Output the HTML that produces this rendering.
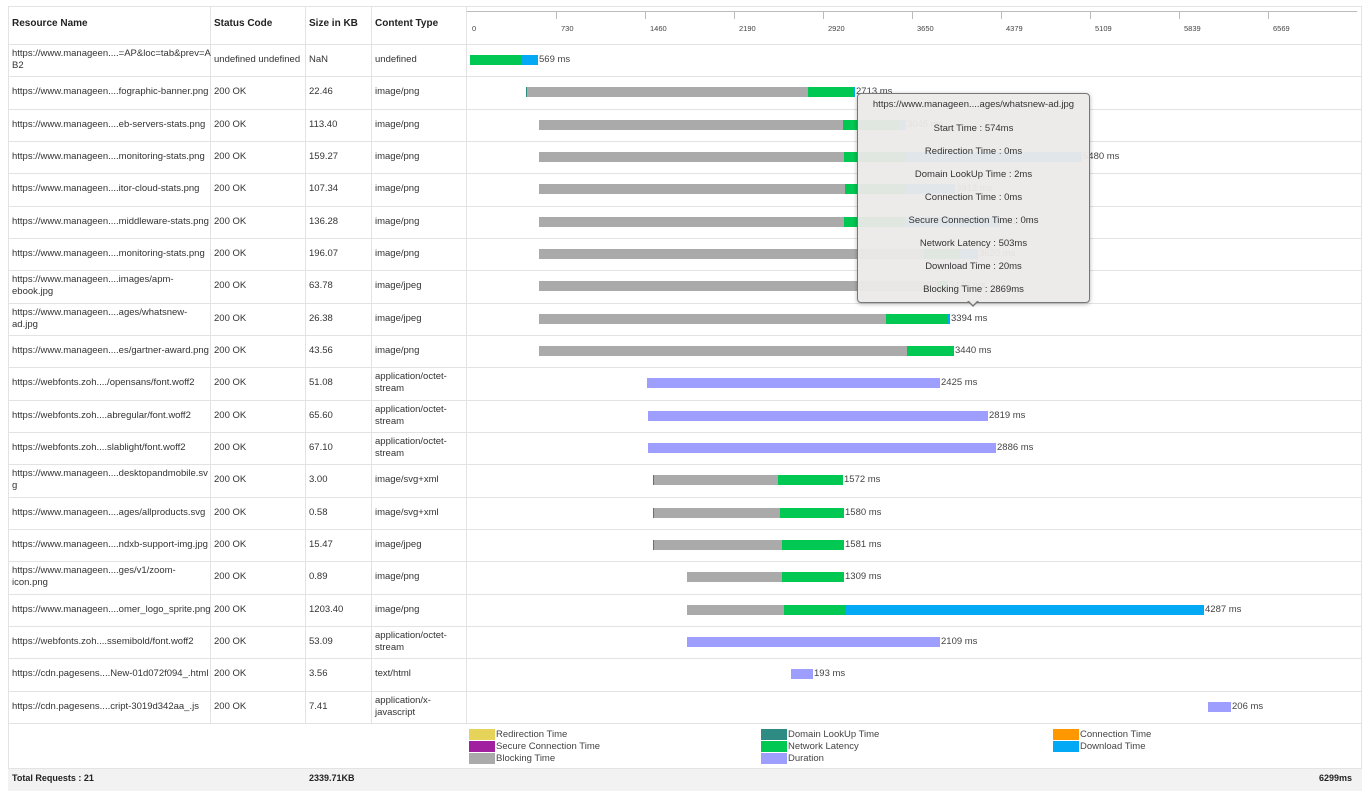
<!DOCTYPE html>
<html><head><meta charset="utf-8"><style>
body{margin:0;width:1371px;height:800px;background:#fff;font-family:"Liberation Sans",sans-serif;position:relative;overflow:hidden;color:#333}
.a{position:absolute}
.t{position:absolute;font-size:9.5px;line-height:12px;color:#333}
.h{position:absolute;font-size:10px;font-weight:bold;color:#222}
.b{position:absolute;height:10px}
.hl{position:absolute;left:8px;width:1354px;height:1px;background:#e3e3e3}
.vl{position:absolute;width:1px;background:#e3e3e3}
.lab{position:absolute;font-size:9.5px;color:#444}
.tt{position:absolute;font-size:9.5px;color:#333;width:231px;text-align:center;left:0}
</style></head><body>
<div class="a" style="left:8px;top:6px;width:1354px;height:784px;border:1px solid #e3e3e3;box-sizing:border-box"></div>
<div class="vl" style="left:210px;top:6px;height:717px"></div>
<div class="vl" style="left:305px;top:6px;height:717px"></div>
<div class="vl" style="left:371px;top:6px;height:717px"></div>
<div class="vl" style="left:466px;top:6px;height:717px"></div>
<div class="h" style="left:12px;top:18px">Resource Name</div>
<div class="h" style="left:214px;top:18px">Status Code</div>
<div class="h" style="left:309px;top:18px">Size in KB</div>
<div class="h" style="left:375px;top:18px">Content Type</div>
<div class="a" style="left:467px;top:11px;width:890px;height:1px;background:#bbb"></div>
<div id="ticks"></div>
<div id="rows"></div>
<div class="hl" style="top:723px"></div>
<div class="a" style="left:8px;top:768px;width:1354px;height:22px;background:#f2f2f2;border-top:1px solid #e3e3e3"></div>
<div class="h" style="left:12px;top:773px;font-size:9px">Total Requests : 21</div>
<div class="h" style="left:309px;top:773px;font-size:9px">2339.71KB</div>
<div class="h" style="left:1319px;top:773px;font-size:9px">6299ms</div>
<div id="leg"></div>
<div class="a" style="left:857px;top:93px;width:231px;height:208px;background:rgba(236,233,233,0.95);border:1px solid #777;border-radius:4px;box-shadow:0 1px 4px rgba(0,0,0,.3)">
<div class="tt" style="top:5px">https://www.manageen....ages/whatsnew-ad.jpg</div>
<div class="tt" style="top:29px">Start Time : 574ms</div>
<div class="tt" style="top:52px">Redirection Time : 0ms</div>
<div class="tt" style="top:75px">Domain LookUp Time : 2ms</div>
<div class="tt" style="top:98px">Connection Time : 0ms</div>
<div class="tt" style="top:121px">Secure Connection Time : 0ms</div>
<div class="tt" style="top:144px">Network Latency : 503ms</div>
<div class="tt" style="top:167px">Download Time : 20ms</div>
<div class="tt" style="top:190px">Blocking Time : 2869ms</div>
</div>
<div class="a" style="left:967px;top:301px;width:0;height:0;border-left:6px solid transparent;border-right:6px solid transparent;border-top:6px solid #777"></div>
<div class="a" style="left:968px;top:300px;width:0;height:0;border-left:5px solid transparent;border-right:5px solid transparent;border-top:5px solid #ece9e9"></div>
<script>
(function(){
var tk=['0','730','1460','2190','2920','3650','4379','5109','5839','6569'];
var s='';
for(var i=0;i<10;i++){var x=467+i*89;s+='<div class="lab" style="left:'+(x+5)+'px;top:24px;font-size:7.5px">'+tk[i]+'</div>';if(i>0)s+='<div class="a" style="left:'+x+'px;top:11px;width:1px;height:8px;background:#bbb"></div>';}
document.getElementById('ticks').innerHTML=s;
var Gr='#aaaaaa',N='#00c853',D='#03a9f4',P='#9e9eff',T='#2e8b83';
var rows=[
['https://www.manageen....=AP&loc=tab&prev=A<br>B2','undefined undefined','NaN','undefined',[[470,521,N],[521,538,D]],'569 ms'],
['https://www.manageen....fographic-banner.png','200 OK','22.46','image/png',[[526,527,T],[527,808,Gr],[808,853,N],[853,855,D]],'2713 ms'],
['https://www.manageen....eb-servers-stats.png','200 OK','113.40','image/png',[[539,843,Gr],[843,900,N],[900,906,D]],'3045 ms'],
['https://www.manageen....monitoring-stats.png','200 OK','159.27','image/png',[[539,844,Gr],[844,905,N],[905,1082,D]],'5480 ms'],
['https://www.manageen....itor-cloud-stats.png','200 OK','107.34','image/png',[[539,845,Gr],[845,905,N],[905,955,D]],'3912 ms'],
['https://www.manageen....middleware-stats.png','200 OK','136.28','image/png',[[539,844,Gr],[844,905,N],[905,1000,D]],'4210 ms'],
['https://www.manageen....monitoring-stats.png','200 OK','196.07','image/png',[[539,924,Gr],[924,960,N],[960,978,D]],'3620 ms'],
['https://www.manageen....images/apm-<br>ebook.jpg','200 OK','63.78','image/jpeg',[[539,937,Gr],[937,948,N]],'3440 ms'],
['https://www.manageen....ages/whatsnew-<br>ad.jpg','200 OK','26.38','image/jpeg',[[539,886,Gr],[886,948,N],[948,950,D]],'3394 ms'],
['https://www.manageen....es/gartner-award.png','200 OK','43.56','image/png',[[539,907,Gr],[907,954,N]],'3440 ms'],
['https://webfonts.zoh..../opensans/font.woff2','200 OK','51.08','application/octet-<br>stream',[[647,940,P]],'2425 ms'],
['https://webfonts.zoh....abregular/font.woff2','200 OK','65.60','application/octet-<br>stream',[[648,988,P]],'2819 ms'],
['https://webfonts.zoh....slablight/font.woff2','200 OK','67.10','application/octet-<br>stream',[[648,996,P]],'2886 ms'],
['https://www.manageen....desktopandmobile.sv<br>g','200 OK','3.00','image/svg+xml',[[653,654,T],[654,778,Gr],[778,843,N]],'1572 ms'],
['https://www.manageen....ages/allproducts.svg','200 OK','0.58','image/svg+xml',[[653,654,T],[654,780,Gr],[780,844,N]],'1580 ms'],
['https://www.manageen....ndxb-support-img.jpg','200 OK','15.47','image/jpeg',[[653,654,T],[654,782,Gr],[782,844,N]],'1581 ms'],
['https://www.manageen....ges/v1/zoom-<br>icon.png','200 OK','0.89','image/png',[[687,782,Gr],[782,844,N]],'1309 ms'],
['https://www.manageen....omer_logo_sprite.png','200 OK','1203.40','image/png',[[687,784,Gr],[784,845,N],[845,1204,D]],'4287 ms'],
['https://webfonts.zoh....ssemibold/font.woff2','200 OK','53.09','application/octet-<br>stream',[[687,940,P]],'2109 ms'],
['https://cdn.pagesens....New-01d072f094_.html','200 OK','3.56','text/html',[[791,813,P]],'193 ms'],
['https://cdn.pagesens....cript-3019d342aa_.js','200 OK','7.41','application/x-<br>javascript',[[1208,1231,P]],'206 ms']
];
s='';
for(var i=0;i<rows.length;i++){var r=rows[i];var ry=44+i*32.33;var cy=ry+16;
s+='<div class="hl" style="top:'+Math.round(ry)+'px"></div>';
var cols=[[12,r[0]],[214,r[1]],[309,r[2]],[375,r[3]]];
for(var c=0;c<4;c++){var two=cols[c][1].indexOf('<br>')>=0;s+='<div class="t" style="left:'+cols[c][0]+'px;top:'+Math.round(cy-(two?12:6))+'px">'+cols[c][1]+'</div>';}
var end=0;r[4].forEach(function(b){s+='<div class="b" style="left:'+b[0]+'px;width:'+(b[1]-b[0])+'px;top:'+Math.round(cy-5)+'px;background:'+b[2]+'"></div>';end=b[1];});
s+='<div class="lab" style="left:'+(end+1)+'px;top:'+Math.round(cy-6)+'px">'+r[5]+'</div>';}
document.getElementById('rows').innerHTML=s;
var lg=[[469,729,'#e6d45a','Redirection Time'],[469,741,'#a020a0','Secure Connection Time'],[469,753,'#aaaaaa','Blocking Time'],
[761,729,'#2e8b83','Domain LookUp Time'],[761,741,'#00c853','Network Latency'],[761,753,'#9e9eff','Duration'],
[1053,729,'#ff9800','Connection Time'],[1053,741,'#03a9f4','Download Time']];
s='';lg.forEach(function(l){s+='<div class="a" style="left:'+l[0]+'px;top:'+l[1]+'px;width:26px;height:11px;background:'+l[2]+'"></div><div class="lab" style="left:'+(l[0]+27)+'px;top:'+l[1]+'px;font-size:9.5px">'+l[3]+'</div>';});
document.getElementById('leg').innerHTML=s;
})();
</script>
</body></html>
